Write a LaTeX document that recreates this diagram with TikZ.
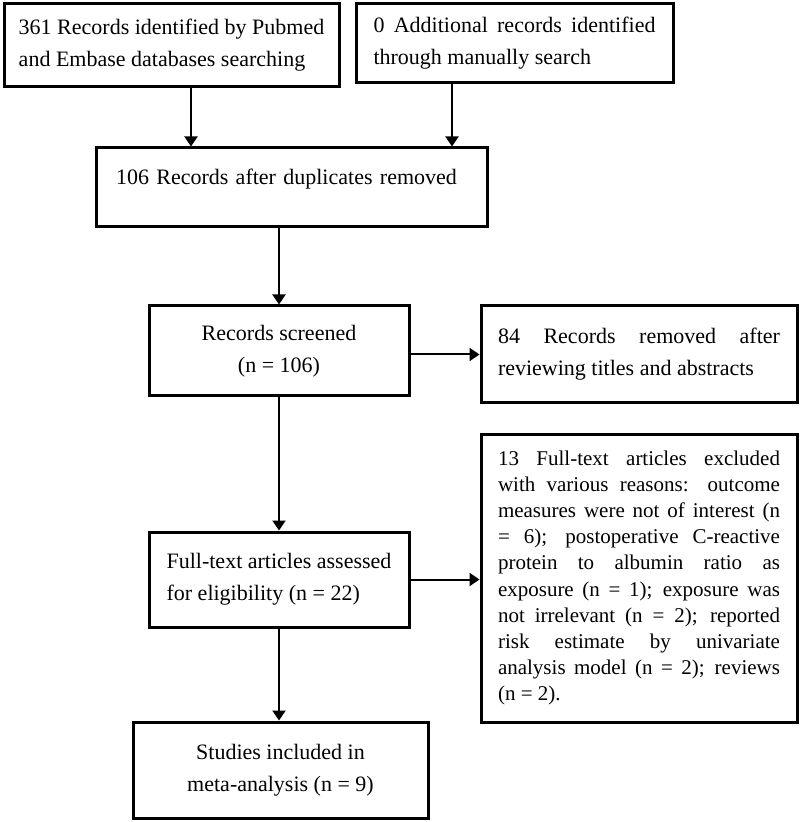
\documentclass[tikz,border=0pt]{standalone}
\usepackage{fontspec}
\setmainfont{Liberation Serif}
\usetikzlibrary{arrows.meta}

\begin{document}
\begin{tikzpicture}[x=0.5pt, y=-0.5pt, line width=1pt,
    box/.style={draw, line width=1.5pt, font=\fontsize{11pt}{16pt}\selectfont},
    side/.style={box, text width=141pt, align=justify},
    >={Triangle[length=5pt,width=6.5pt]}]
  \useasboundingbox (0,0) rectangle (800,822);
    \node[box, minimum width=167.5pt, minimum height=41.5pt, align=left] (ids) at (171.5,45.5) {361 Records identified by Pubmed\\and Embase databases searching};
    \node[side, minimum width=158.5pt, minimum height=39.5pt] (extra) at (514.5,43.5) {0 Additional records identified\linebreak through manually search};
    \node[box, text width=175.5pt, inner xsep=10pt, minimum height=39.5pt, align=left] (dup) at (291.5,187.5) {106 Records after duplicates removed\\[-5pt]\mbox{}};
    \node[box, minimum width=130pt, minimum height=45pt, align=center] (screen) at (279,351) {Records screened\\(n = 106)};
    \node[side, minimum width=158pt, minimum height=48.5pt] (removed) at (639,354.5) {84 Records removed after\linebreak reviewing titles and abstracts};
    \node[box, minimum width=130pt, minimum height=47.5pt, align=left] (full) at (279,579.5) {Full-text articles assessed\\for eligibility (n = 22)};
    \node[side, minimum width=158pt, minimum height=144pt, font=\fontsize{10.5pt}{13.1pt}\selectfont] (excl) at (639,578) {13 Full-text articles excluded\linebreak with various reasons: outcome\linebreak measures were not of interest (n\linebreak = 6); postoperative C-reactive\linebreak protein to albumin ratio as\linebreak exposure (n = 1); exposure was\linebreak not irrelevant (n = 2); reported\linebreak risk estimate by univariate\linebreak analysis model (n = 2); reviews\linebreak (n = 2).};
    \node[box, minimum width=147.5pt, minimum height=48pt, align=center] (meta) at (280.5,770) {Studies included in\\meta-analysis (n = 9)};
      \draw[->] ([xshift=9.75pt]ids.south) -- ([xshift=9.75pt]ids.south |- dup.north);
      \draw[->] ([xshift=-31.25pt]extra.south) -- ([xshift=-31.25pt]extra.south |- dup.north);
      \draw[->] (dup.south -| screen.north) -- (screen.north);
      \draw[->] (screen.east |- removed.west) -- (removed.west);
      \draw[->] (screen) -- (full);
      \draw[->] (full.east) -- (full.east -| excl.west);
      \draw[->] (full.south) -- (full.south |- meta.north);
  \end{tikzpicture}
\end{document}
